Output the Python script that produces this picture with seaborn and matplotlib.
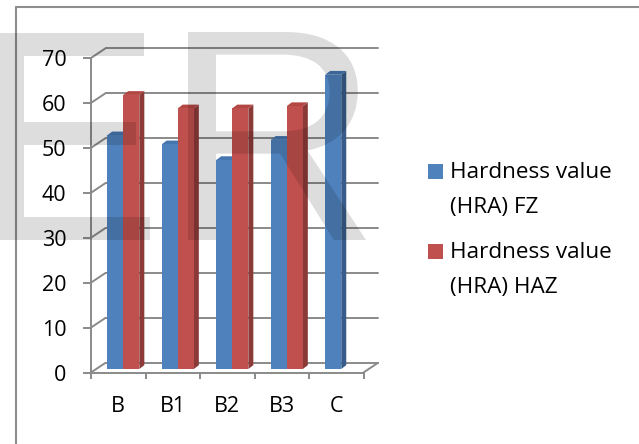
import numpy as np
import pandas as pd
import matplotlib
matplotlib.use("Agg")
import matplotlib.pyplot as plt
import matplotlib.transforms as mtransforms
from matplotlib.patches import Polygon, Rectangle, PathPatch
from matplotlib.lines import Line2D
from matplotlib.textpath import TextPath
from matplotlib.font_manager import FontProperties
import seaborn as sns

# ---- data -------------------------------------------------------------
categories = ["B", "B1", "B2", "B3", "C"]
series_names = ["Hardness value\n(HRA) FZ", "Hardness value\n(HRA) HAZ"]
fz_values = [52, 50, 46.5, 51, 65.5]
haz_values = [61, 58, 58, 58.5, np.nan]
y_ticks = [0, 10, 20, 30, 40, 50, 60, 70]
watermark_letters = ["E", "R"]

# ---- styling ----------------------------------------------------------
front_colors = ["#4F81BD", "#C0504D"]
side_colors = ["#385D8A", "#8C3A38"]
top_colors = ["#4676B0", "#B24744"]
grid_color = "#8A8A8A"
text_size = 15.5
legend_size = 16.2

sns.set_style("white")
plt.rcParams["font.family"] = ["Open Sans", "DejaVu Sans"]

W, H, DPI = 639, 444, 100
fig = plt.figure(figsize=(W / DPI, H / DPI), dpi=DPI)
fig.patch.set_facecolor("white")


def fx(px):
    return px / W


def fy(py):
    return 1 - py / H


# front plane of the 3-D box
ax = fig.add_axes([fx(91), fy(372.5), fx(363.5) - fx(91), fy(58) - fy(372.5)])
ax.set_facecolor("none")

df = pd.DataFrame({
    "category": categories * 2,
    "series": [series_names[0]] * len(categories) + [series_names[1]] * len(categories),
    "value": fz_values + haz_values,
})

sns.barplot(data=df, x="category", y="value", hue="series",
            order=categories, hue_order=series_names,
            palette=front_colors, saturation=1, width=0.59, gap=0,
            linewidth=0, legend=False, errorbar=None, ax=ax)

ax.set_xlim(-0.5, len(categories) - 0.5)
ax.set_ylim(0, 70)
ax.set_xlabel("")
ax.set_ylabel("")

# pixel offsets giving the oblique depth
back_off = (14.5, 9.7)      # back wall relative to front plane
bar_off = (5.0, 3.5)        # front face of the columns
bar_depth = (5.0, 3.8)      # thickness of a column

to_px = ax.transData.transform
ident = mtransforms.IdentityTransform()

# back wall gridlines
back_tr = ax.transData + mtransforms.Affine2D().translate(*back_off)
for v in y_ticks:
    ax.plot([-0.5, len(categories) - 0.5], [v, v], transform=back_tr,
            color=grid_color, lw=1.4, zorder=0.5, clip_on=False)
    # left side wall diagonals
    p = to_px((-0.5, v))
    ax.add_line(Line2D([p[0], p[0] + back_off[0]], [p[1], p[1] + back_off[1]],
                       transform=ident, color=grid_color, lw=1.4, zorder=0.5,
                       clip_on=False))
# right floor edge
p = to_px((len(categories) - 0.5, 0))
ax.add_line(Line2D([p[0], p[0] + back_off[0]], [p[1], p[1] + back_off[1]],
                   transform=ident, color=grid_color, lw=1.4, zorder=0.5,
                   clip_on=False))

# columns: shift front faces and add side and top faces
bar_tr = ax.transData + mtransforms.Affine2D().translate(*bar_off)
bars = [b for b in ax.patches if np.isfinite(b.get_height()) and b.get_height() > 0]
for b in bars:
    fc = matplotlib.colors.to_hex(b.get_facecolor())
    k = [c.lower() for c in front_colors].index(fc.lower())
    x0, y0 = b.get_x(), b.get_y()
    x1, y1 = x0 + b.get_width(), y0 + b.get_height()
    br = to_px((x1, y0)) + bar_off
    tl = to_px((x0, y1)) + bar_off
    tr = to_px((x1, y1)) + bar_off
    d = np.array(bar_depth)
    side = Polygon([br, br + d, tr + d, tr], closed=True, transform=ident,
                   facecolor=side_colors[k], edgecolor="none", zorder=2.8,
                   clip_on=False)
    top = Polygon([tl, tr, tr + d, tl + d], closed=True, transform=ident,
                  facecolor=top_colors[k], edgecolor="none", zorder=2.9,
                  clip_on=False)
    ax.add_patch(side)
    ax.add_patch(top)
    b.set_transform(bar_tr)
    b.set_zorder(3)
    b.set_clip_on(False)

# axes, ticks and labels
for s in ["top", "right"]:
    ax.spines[s].set_visible(False)
for s in ["left", "bottom"]:
    ax.spines[s].set_color(grid_color)
    ax.spines[s].set_linewidth(1.4)

ax.set_yticks(y_ticks)
ax.set_yticklabels([str(v) for v in y_ticks])
ax.tick_params(axis="y", which="major", left=True, direction="out",
               length=5.8, width=1.4, color=grid_color, pad=12,
               labelsize=text_size, labelcolor="black")

ax.set_xticks(np.arange(-0.5, len(categories)), labels=[""] * (len(categories) + 1))
ax.set_xticks(np.arange(len(categories)), labels=categories, minor=True)
ax.tick_params(axis="x", which="major", bottom=True, direction="out",
               length=4.3, width=1.4, color=grid_color)
ax.tick_params(axis="x", which="minor", bottom=True, length=0, pad=17,
               labelsize=text_size, labelcolor="black")

# legend
legend_rows = [(428, 171.5, 178), (428, 251, 258)]
for k, (name, (sx, sy, base)) in enumerate(zip(series_names, legend_rows)):
    fig.add_artist(Rectangle((fx(sx), fy(sy + 7.5)), 15 / W, 15 / H,
                             transform=fig.transFigure,
                             facecolor=front_colors[k], edgecolor="none"))
    for j, line in enumerate(name.split("\n")):
        fig.text(fx(450), fy(base + 35 * j), line, ha="left", va="baseline",
                 fontsize=legend_size, color="black")

# chart frame
fig.add_artist(Line2D([fx(16), 1], [fy(7), fy(7)], transform=fig.transFigure,
                      color="#8E8E8E", lw=1.5))
fig.add_artist(Line2D([fx(16), fx(16)], [fy(7), 0], transform=fig.transFigure,
                      color="#8E8E8E", lw=1.5))

# watermark letters, each fitted into its pixel box (left, top, right, bottom)
wm_boxes = [(-2, 33, 150, 240), (188, 32, 366, 240)]
wm_font = FontProperties(family="Liberation Sans")
for letter, (l, t, r, btm) in zip(watermark_letters, wm_boxes):
    path = TextPath((0, 0), letter, size=1, prop=wm_font)
    ext = path.get_extents()
    tf = (mtransforms.Affine2D()
          .translate(-ext.x0, -ext.y0)
          .scale((r - l) / ext.width, (btm - t) / ext.height)
          .translate(l, H - btm))
    fig.add_artist(PathPatch(tf.transform_path(path), transform=ident,
                             facecolor="black", edgecolor="none",
                             alpha=0.135, zorder=10))

fig.savefig("out.png", dpi=DPI)
